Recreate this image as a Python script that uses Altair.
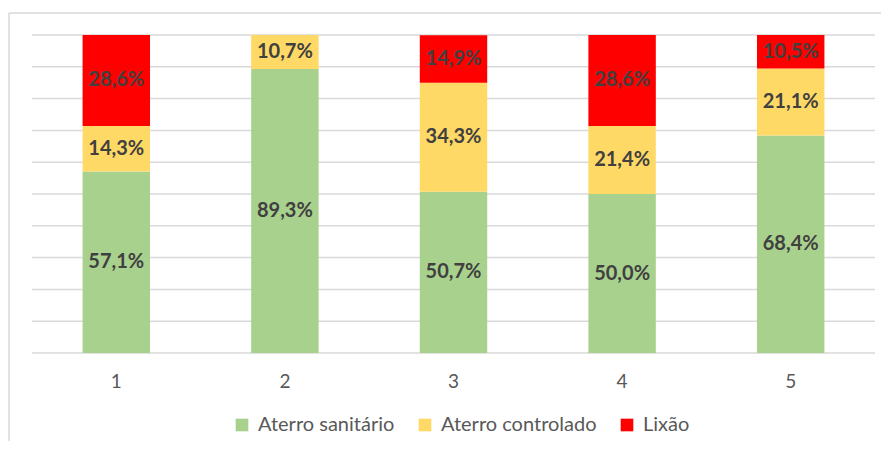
import altair as alt
import pandas as pd

categories = ["1", "2", "3", "4", "5"]
series = ["Aterro sanitário", "Aterro controlado", "Lixão"]
sanitario = [57.1, 89.3, 50.7, 50.0, 68.4]
controlado = [14.3, 10.7, 34.3, 21.4, 21.1]
lixao = [28.6, 0.0, 14.9, 28.6, 10.5]
colors = ["#A9D18E", "#FFD966", "#FF0000"]
grid_values = [0, 10, 20, 30, 40, 50, 60, 70, 80, 90, 100]

rows = []
for i, c in enumerate(categories):
    base = 0.0
    for j, (s, vals) in enumerate(zip(series, [sanitario, controlado, lixao])):
        v = vals[i]
        rows.append(dict(cat=c, series=s, order=j, value=v, start=base,
                         end=base + v, mid=base + v / 2,
                         label=f"{v:.1f}%".replace(".", ",")))
        base += v
df = pd.DataFrame(rows)

W, H = 843, 318
FONT = "Lato"

x_axis = alt.Axis(labelAngle=0, ticks=False, domain=False, grid=False, labelFontSize=19,
                  labelColor="#595959", labelPadding=19, labelFont=FONT)
x_scale = alt.Scale(paddingInner=0.6, paddingOuter=0.3)
y_scale = alt.Scale(domain=[0, 100], nice=False)

grid = alt.Chart(pd.DataFrame({"g": grid_values})).mark_rule(
    color="#D9D9D9", strokeWidth=1.5
).encode(
    y=alt.Y("g:Q", scale=y_scale, axis=None),
    x=alt.value(0), x2=alt.value(W),
)

base = alt.Chart(df)

bars = base.mark_bar().encode(
    x=alt.X("cat:N", sort=categories, title=None, scale=x_scale, axis=x_axis),
    y=alt.Y("start:Q", scale=y_scale, axis=None),
    y2="end:Q",
    color=alt.Color("series:N", sort=series,
                    scale=alt.Scale(domain=series, range=colors),
                    legend=alt.Legend(title=None, orient="none", direction="horizontal",
                                      legendX=200, legendY=380, symbolType="square",
                                      symbolSize=160, symbolStrokeWidth=0, labelFontSize=20,
                                      labelColor="#595959", labelFont=FONT, columnPadding=20,
                                      labelOffset=6)),
)

texts = base.transform_filter("datum.value > 0").mark_text(
    fontWeight="bold", fontSize=20, color="#404040", font=FONT
).encode(
    x=alt.X("cat:N", sort=categories, title=None, scale=x_scale, axis=x_axis),
    y=alt.Y("mid:Q", scale=y_scale, axis=None),
    text="label:N",
)

frame_df = pd.DataFrame({"a": [0]})
frame_left = alt.Chart(frame_df).mark_rule(color="#D9D9D9", strokeWidth=1.5).encode(
    x=alt.value(-23), y=alt.value(-22), y2=alt.value(H + 120))
frame_top = alt.Chart(frame_df).mark_rule(color="#D9D9D9", strokeWidth=1.5).encode(
    x=alt.value(-23), x2=alt.value(W + 60), y=alt.value(-22))

chart = alt.layer(grid, bars, texts, frame_left, frame_top).properties(
    width=W, height=H,
    autosize=alt.AutoSizeParams(type="none"),
    padding={"left": 24, "top": 27, "right": 6, "bottom": 88},
).configure(background="white", view=alt.ViewConfig(stroke=None))

chart.save("out.html", embed_options={"renderer": "svg", "actions": False})
